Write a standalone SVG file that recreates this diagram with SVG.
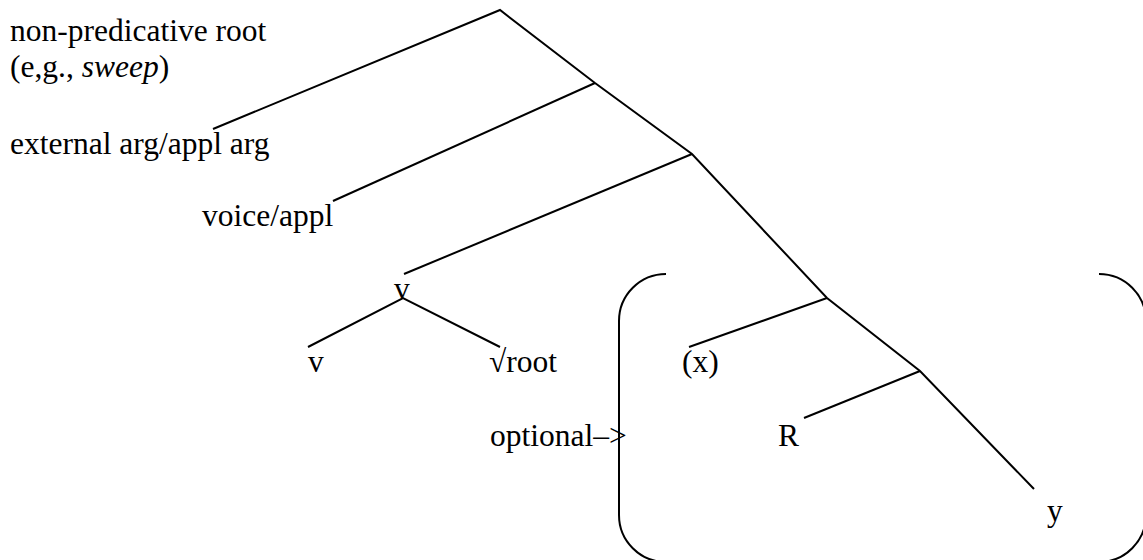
<svg xmlns="http://www.w3.org/2000/svg" width="1143" height="560" viewBox="0 0 1143 560">
  <style>
    .edge { fill: none; stroke: #000; stroke-width: 2; stroke-linejoin: miter; stroke-linecap: butt; }
    .lbl { font-family: "Liberation Serif", "Times New Roman", serif; font-size: 31.5px; fill: #000; }
    .it { font-style: italic; }
  </style>
  <rect width="1143" height="560" fill="#fff"/>

  <!-- tree branches -->
  <g id="connectors">
    <polyline class="edge" points="213,129 500,10 595,83 692,154 827,298 920,371 1034,489"/>
    <line class="edge" x1="595" y1="83" x2="333" y2="201"/>
    <line class="edge" x1="692" y1="154" x2="404" y2="274"/>
    <line class="edge" x1="827" y1="298" x2="689" y2="347"/>
    <line class="edge" x1="920" y1="371" x2="804" y2="418"/>
    <polyline class="edge" points="308,347 403,298 500,347"/>
  </g>

  <!-- bracket marking the optional part -->
  <g id="optional-bracket">
    <path class="edge" d="M666,274 A47,47 0 0 0 619,321 L619,515 A47,47 0 0 0 666,562"/>
    <path class="edge" d="M1099,274 A47,47 0 0 1 1146,321 L1146,515 A47,47 0 0 1 1099,562"/>
  </g>

  <g id="root-label">
    <text class="lbl" x="10" y="41">non-predicative root</text>
    <text class="lbl" x="10" y="77">(e,g., <tspan class="it">sweep</tspan>)</text>
  </g>
  <g id="external-arg">
    <text class="lbl" x="10" y="154">external arg/appl arg</text>
  </g>
  <g id="voice">
    <text class="lbl" x="202" y="226">voice/appl</text>
  </g>
  <g id="v-phrase">
    <text class="lbl" x="394" y="299">v</text>
  </g>
  <g id="v-head">
    <text class="lbl" x="308" y="372">v</text>
  </g>
  <g id="root">
    <text class="lbl" x="489" y="372">√root</text>
  </g>
  <g id="x-arg">
    <text class="lbl" x="682" y="372">(x)</text>
  </g>
  <g id="relation">
    <text class="lbl" x="778" y="446">R</text>
  </g>
  <g id="y-arg">
    <text class="lbl" x="1047" y="521">y</text>
  </g>
  <g id="optional-note">
    <text class="lbl" x="490" y="446">optional–&gt;</text>
  </g>
</svg>
